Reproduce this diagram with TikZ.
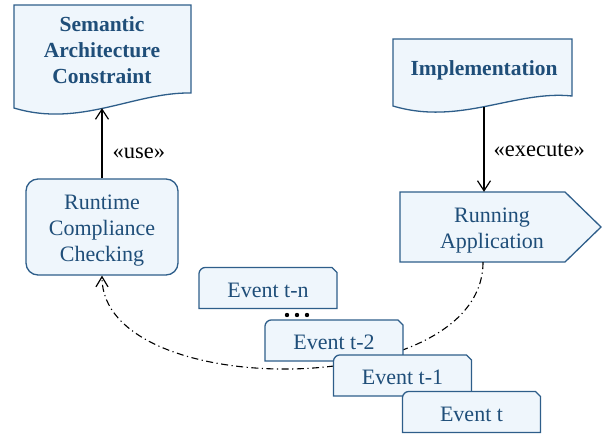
\documentclass[tikz,border=0pt]{standalone}
\usepackage{fontspec}
\setmainfont{Liberation Serif}
\usetikzlibrary{arrows.meta}
\definecolor{boxfill}{RGB}{239,246,252}
\definecolor{boxline}{RGB}{46,94,138}
\definecolor{boxtext}{RGB}{31,78,121}
\tikzset{
  shapeline/.style={draw=boxline, fill=boxfill, line width=1.3pt},
  txt/.style={text=boxtext, align=center, inner sep=0pt, font=\fontsize{22}{26}\selectfont},
  btxt/.style={txt, font=\fontsize{21.5}{26}\selectfont\bfseries},
  arr/.style={draw=black, line width=1.2pt, -{Straight Barb[length=10pt,width=13pt,line width=1.2pt]}},
  lbl/.style={text=black, inner sep=0pt, anchor=west, font=\fontsize{22.5}{26}\selectfont},
  dashdot/.style={draw=black, line width=1.1pt, dash pattern=on 7pt off 3.5pt on 1.2pt off 3.5pt,
    -{Straight Barb[length=10pt,width=12pt,line width=1.2pt]}}
}
\newcommand\topstrut{\rule{0pt}{22pt}}
\newcommand\evbox[4]{%
  \filldraw[shapeline] (#2-69,#3+20.5) -- (#2-69,#3-14.5)
     .. controls (#2-69,#3-17.8) and (#2-65.7,#3-20.5) .. (#2-63,#3-20.5)
     -- (#2+64,#3-20.5) -- (#2+69,#3-15.5) -- (#2+69,#3+20.5) -- cycle;
  \node[txt] (#1) at (#2,#3+2) {#4};
}
\begin{document}
\begin{tikzpicture}[x=1pt,y=-1pt]
\useasboundingbox (0,0) rectangle (610,439);

% Semantic Architecture Constraint (document shape)
\filldraw[shapeline] (14,108) -- (14,5) -- (191,5) -- (191,93)
   .. controls (134,92) and (80,128) .. (14,108) -- cycle;
\node[btxt, minimum width=177pt, minimum height=116pt] (sem) at (102,50)
   {Semantic\\Architecture\\Constraint};

% Implementation (document shape)
\filldraw[shapeline] (393,106) -- (393,39) -- (572,39) -- (572,96)
   .. controls (515,90) and (460,126) .. (393,106) -- cycle;
\node[btxt, minimum width=179pt, minimum height=74pt] (impl) at (484,70) {Implementation};

% Running Application (signal shape)
\filldraw[shapeline] (400,192) -- (565,192) -- (601,227) -- (565,262) -- (400,262) -- cycle;
\node[txt, minimum height=70pt] (run) at (492,227) {\topstrut Running\\Application};

% Runtime Compliance Checking
\node[txt, shapeline, rounded corners=12pt, minimum width=152pt, minimum height=96pt] (rcc) at (102,227)
   {\topstrut Runtime\\Compliance\\Checking};

% connectors
\draw[arr] (rcc.north) -- node[lbl, pos=0.38, xshift=10pt, yshift=-2pt] {«use»} (rcc.north |- sem.south);
\draw[arr] (impl.south) -- node[lbl, pos=0.48, xshift=9pt, yshift=-2.5pt] {«execute»} (impl.south |- run.north);

\coordinate (runout) at ([xshift=-9pt]run.south);
\draw[dashdot] (runout) .. controls (483,402) and (102,402) .. (rcc.south);

% events
\evbox{evn}{268}{288}{Event t-n}
\fill (287,315) circle (2.2pt);
\fill (297,315) circle (2.2pt);
\fill (307,315) circle (2.2pt);
\evbox{ev2}{334}{340.5}{Event t-2}
\evbox{ev1}{402.5}{375.5}{Event t-1}
\evbox{ev0}{471.5}{412}{Event t}
\end{tikzpicture}
\end{document}
